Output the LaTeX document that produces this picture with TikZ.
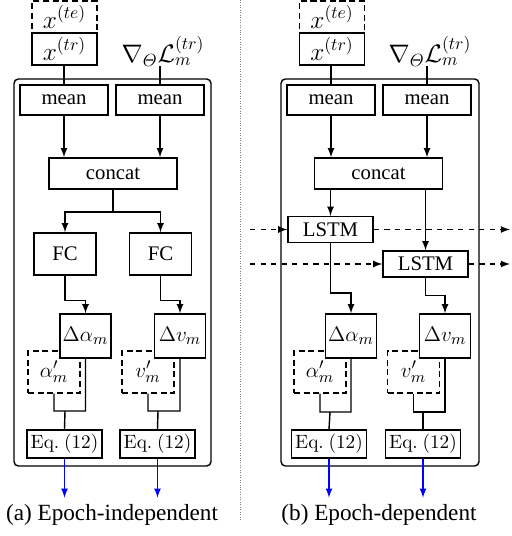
\documentclass[tikz,border=0pt]{standalone}
\usepackage{amsmath,amssymb}
\usepackage[no-math]{fontspec}
\setmainfont{Liberation Serif}

\begin{document}
\begin{tikzpicture}[x=0.02cm,y=-0.02cm,
		lnk/.style={line width=0.8pt},
		blk/.style={draw,line width=0.8pt,fill=white,inner sep=0pt,font=\fontsize{11.8}{14}\selectfont},
		dblk/.style={blk,dash pattern=on 3.5pt off 2pt},
		inbox/.style={minimum width=1.3cm,minimum height=0.64cm,font=\fontsize{14}{16}\selectfont},
		meanbox/.style={blk,minimum width=1.76cm,minimum height=0.6cm},
		catbox/.style={blk,minimum width=2.56cm,minimum height=0.62cm},
		fcbox/.style={blk,minimum width=1.24cm,minimum height=0.84cm},
		lstmbox/.style={blk,minimum width=1.7cm,minimum height=0.52cm},
		dbox/.style={blk,minimum width=1.02cm,minimum height=0.88cm,font=\fontsize{12.5}{14}\selectfont},
		pbox/.style={dblk,minimum width=1.04cm,minimum height=0.84cm,font=\fontsize{13}{14}\selectfont},
		eqbox/.style={blk,minimum width=1.5cm,minimum height=0.56cm,font=\fontsize{11}{13}\selectfont},
		gradlbl/.style={inner sep=0pt,font=\fontsize{14}{16}\selectfont},
		caplbl/.style={inner sep=0pt,font=\fontsize{13.2}{15}\selectfont}]
		\useasboundingbox (0,0) rectangle (511,536);
		\draw[gray,densely dotted] (240,0) -- (240,520);
		% (a) epoch-independent
		\begin{scope}
		\draw[lnk,rounded corners=2.5pt] (14,79) rectangle (211,466);
		\node[dblk,inbox] (xtea) at (64.5,17) {$x^{(te)}$};
		\node[blk,inbox] (xtra) at (64.5,49) {$x^{(tr)}$};
		\node[gradlbl] (grada) at (163,51) {$\nabla_{\varTheta}\mathcal{L}_m^{(tr)}$};
		\node[meanbox] (meana1) at (64,100) {mean};
		\node[meanbox] (meana2) at (160,100) {mean};
		\node[catbox] (concata) at (113,173.5) {concat};
		\node[fcbox] (fca1) at (65,254) {FC};
		\node[fcbox] (fca2) at (160.5,254) {FC};
		\node[pbox] (apa) at (54,372) {$\alpha'_m$};
		\node[pbox] (vpa) at (148,372) {$v'_m$};
		\node[dbox] (daa) at (85.5,336) {$\Delta\alpha_m$};
		\node[dbox] (dva) at (180,336) {$\Delta v_m$};
		\node[eqbox] (eqa1) at (64.5,444) {$\mathrm{Eq.~(12)}$};
		\node[eqbox] (eqa2) at (157.5,444) {$\mathrm{Eq.~(12)}$};
		\coordinate (splita) at (113,212);
		\coordinate (ja1) at (65,411);
		\coordinate (ja2) at (158,411);
		\draw[lnk] (xtra.south -| meana1.north) -- (meana1.north);
		\draw[lnk] (grada.south -| meana2.north) -- (meana2.north);
		\draw[lnk,-latex] (meana1.south) -- (meana1.south |- concata.north);
		\draw[lnk,-latex] (meana2.south) -- (meana2.south |- concata.north);
		\draw[lnk] (concata.south) -- (splita);
		\draw[lnk,-latex] (splita) -| (fca1.north);
		\draw[lnk,-latex] (splita) -| (fca2.north);
		\draw[lnk,-latex] (fca1.south) -- ++(0,25) -| (daa.north);
		\draw[lnk,-latex] (fca2.south) -- ++(0,25) -| (dva.north);
		\draw[lnk] (daa.south) |- (ja1) (apa.south) |- (ja1) (ja1) -- (eqa1.north);
		\draw[lnk] (dva.south) |- (ja2) (vpa.south) |- (ja2) (ja2) -- (eqa2.north);
		\draw[lnk,blue,-latex] (eqa1.south) -- ++(0,39);
		\draw[lnk,blue,-latex] (eqa2.south) -- ++(0,39);
		\node[caplbl] (capa) at (112,515) {(a) Epoch-independent};
		\end{scope}
		% (b) epoch-dependent
		\begin{scope}
		\draw[lnk,rounded corners=2.5pt] (281,79) rectangle (479,466);
		\node[dblk,inbox] (xteb) at (332,17) {$x^{(te)}$};
		\node[blk,inbox] (xtrb) at (332,49) {$x^{(tr)}$};
		\node[gradlbl] (gradb) at (430,51) {$\nabla_{\varTheta}\mathcal{L}_m^{(tr)}$};
		\node[meanbox] (meanb1) at (331,100) {mean};
		\node[meanbox] (meanb2) at (427,100) {mean};
		\node[catbox] (concatb) at (378.5,173.5) {concat};
		\node[lstmbox] (lstmb1) at (330.5,229.5) {LSTM};
		\node[lstmbox] (lstmb2) at (425.5,264) {LSTM};
		\node[pbox] (apb) at (320,372) {$\alpha'_m$};
		\node[pbox] (vpb) at (413.5,372) {$v'_m$};
		\node[dbox] (dab) at (351,336) {$\Delta\alpha_m$};
		\node[dbox] (dvb) at (445,336) {$\Delta v_m$};
		\node[eqbox] (eqb1) at (329,444) {$\mathrm{Eq.~(12)}$};
		\node[eqbox] (eqb2) at (423,444) {$\mathrm{Eq.~(12)}$};
		\coordinate (inb1) at (250,229.5);
		\coordinate (outb1) at (510,229.5);
		\coordinate (inb2) at (250,264);
		\coordinate (outb2) at (510,264);
		\coordinate (jb1) at (330,412);
		\coordinate (jb2) at (423,412);
		\draw[lnk] (xtrb.south -| meanb1.north) -- (meanb1.north);
		\draw[lnk] (gradb.south -| meanb2.north) -- (meanb2.north);
		\draw[lnk,-latex] (meanb1.south) -- (meanb1.south |- concatb.north);
		\draw[lnk,-latex] (meanb2.south) -- (meanb2.south |- concatb.north);
		\draw[lnk,-latex] (lstmb1.north |- concatb.south) -- (lstmb1.north);
		\draw[lnk,-latex] (lstmb2.north |- concatb.south) -- (lstmb2.north);
		\draw[lnk,dashed,-latex] (inb1) -- (lstmb1.west);
		\draw[lnk,dashed,-latex] (lstmb1.east) -- (outb1);
		\draw[lnk,dashed,-latex] (inb2) -- (lstmb2.west);
		\draw[lnk,dashed,-latex] (lstmb2.east) -- (outb2);
		\draw[lnk,-latex] (lstmb1.south) -- ++(0,50) -| (dab.north);
		\draw[lnk,-latex] (lstmb2.south) -- ++(0,18) -| (dvb.north);
		\draw[lnk] (dab.south) |- (jb1) (apb.south) |- (jb1) (jb1) -- (eqb1.north);
		\draw[lnk] (dvb.south) |- (jb2) (vpb.south) |- (jb2) (jb2) -- (eqb2.north);
		\draw[lnk,blue,-latex] (eqb1.south) -- ++(0,39);
		\draw[lnk,blue,-latex] (eqb2.south) -- ++(0,39);
		\node[caplbl] (capb) at (379,515) {(b) Epoch-dependent};
		\end{scope}
\end{tikzpicture}
\end{document}
